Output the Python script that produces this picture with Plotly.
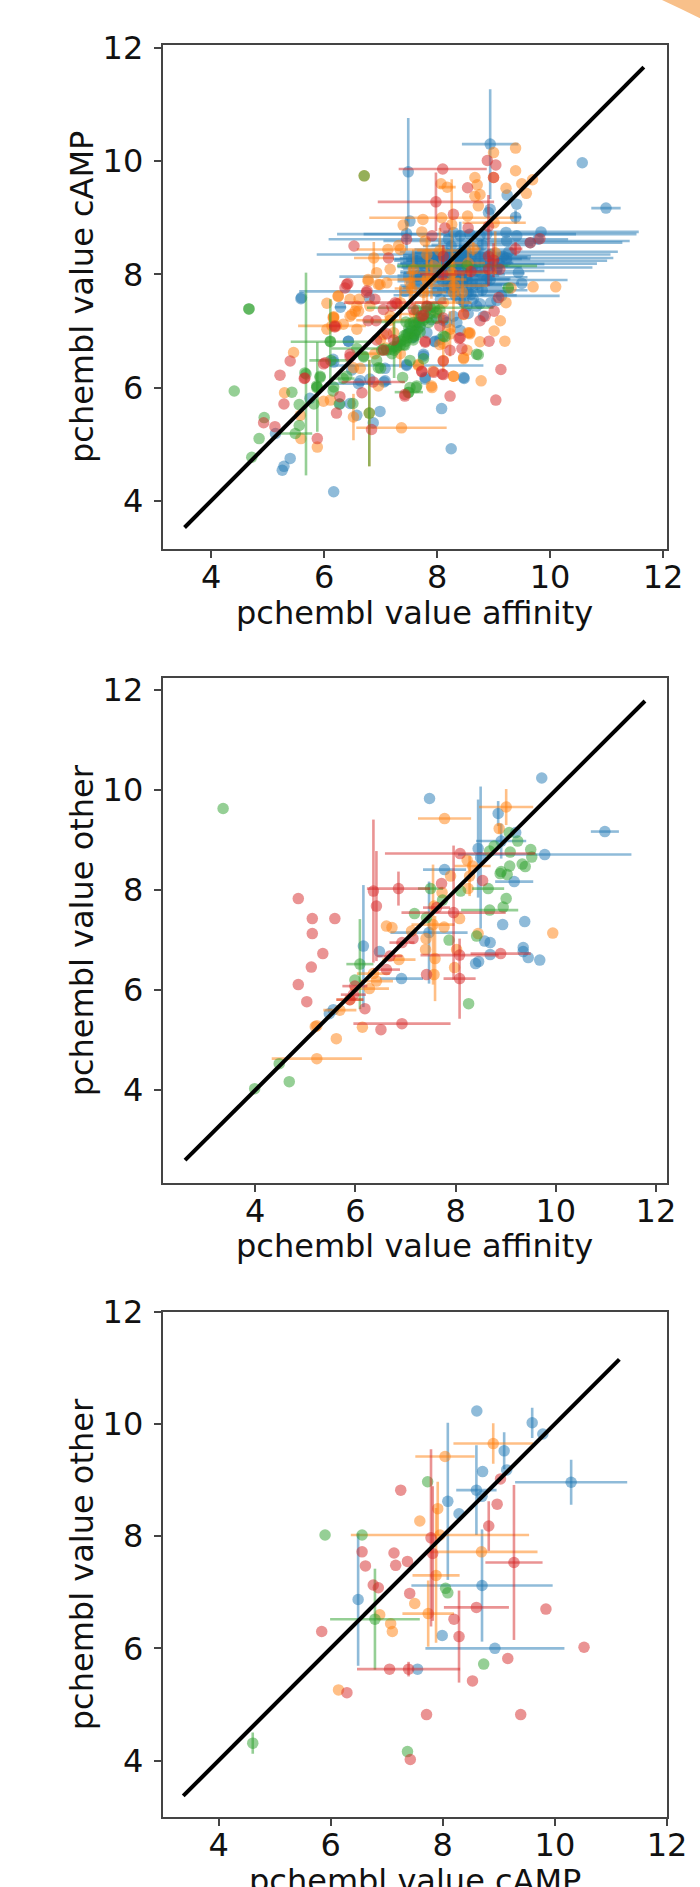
import plotly.graph_objects as go

# Panel 1: affinity vs cAMP. Rows: x, y, optional x error, optional y error.
A_BLUE = [
(8.94,10.3,.5,.97),(10.57,9.97),(10.99,9.17,.26,0),(7.49,9.81,0,.95),(9.24,9.4),(9.41,9.24),(9.39,9.01,.1,.12),(8.94,9.15),(8.91,9.09),
(7.52,8.94),(7.46,8.72,0,.3),(9.84,8.75,1.73,0),(8.88,8.71,2.65,0),(8.58,8.71,1.88,0),(8.2,8.62,2.12,0),(9.65,8.56,1.63,0),(9.23,8.59,2.18,0),
(8.47,8.35,2.6,0),(9.27,8.4,1.93,0),(9.23,8.29,1.89,0),(9.23,8.24,1.78,0),(9.09,8.19,1.74,0),(9.06,8.12,1.69,0),(7.64,7.96,1.37,0),(8.94,7.9,1.37,0),
(7.43,7.7,1.87,0),(9.14,7.62,1.03,0),(8.32,7.63,1.09,0),(9.5,7.84),(9.44,8.03),(5.59,7.57),(6.29,7.42,.1,0),(6.8,7.59),(9.22,8.74),(9.41,8.68),(9.79,8.62),
(7.82,8.27,.6,.1),(7.99,8.32,.5,.1),(8.17,8.24,.7,.2),(8.41,8.38,.8,.15),(8.58,8.15,.6,.1),(8.76,8.32,.9,.2),(9.0,8.27,.5,.1),(7.64,8.24,.4,.1),(7.88,8.15,.5,.1),
(8.11,8.03,.7,.15),(8.35,8.15,.9,.1),(8.53,7.91,.5,.2),(8.7,7.82,.6,.1),(8.88,7.91,.4,.1),(9.06,8.09),(9.17,8.32),(8.41,8.68,.3,.25),(8.29,8.74),(8.76,8.68),
(8.41,7.56,.3,.1),(8.53,7.44),(8.7,7.44,.3,0),(8.82,7.26),(8.29,7.26),(7.82,6.97),(8.06,7.56),(8.2,7.75,.3,0),(8.0,7.7),(8.6,7.65),(8.95,7.5),
(6.43,6.82),(7.76,6.56),(7.46,6.39,1.36,0),(8.48,6.16),(8.08,5.63),(8.25,4.92),(6.17,4.16),(6.99,5.58),(6.87,5.38),(6.61,6.07,.58,0),(6.81,6.15),(7.06,6.1),(7.79,6.15),
(6.58,5.51),(6.46,5.72),(6.28,5.71),(5.75,5.81),(5.4,4.75),(5.29,4.61),(5.26,4.54),(5.14,5.19),(7.96,6.81),(8.41,7.01),(7.08,6.34),(6.49,6.31),(6.17,6.45),
(7.58,6.9),(7.49,6.95),(8.11,7.19),(8.55,7.31),(8.76,7.48),(8.47,7.51),(9.06,7.54),(7.7,7.1),(7.62,7.0),(7.9,7.2),
(8.4,8.36,1.0,.1),(8.5,8.3,1.1,.1),(8.3,8.22,.9,.15),(8.6,8.18,1.3,.1),(8.2,8.1,.8,.15),(8.7,8.06,1.2,.1),(8.3,8.0,.9,.1),(8.5,7.95,1.1,.1),(8.1,7.88,.8,.1),(8.6,7.82,1.0,.2),
(8.3,7.76,.9,.1),(8.8,7.72,.8,.1),(8.5,8.44,.9,.1),(8.8,8.52,.9,.1),(8.25,8.5,.5,.1),(7.46,6.41),(7.76,6.59),(8.47,6.18),(7.79,6.18),(7.08,6.12),(6.64,6.12),(6.16,6.5),
(8.05,6.85),(8.17,7.15),(7.64,7.15),(7.52,7.0),(7.58,6.88),(7.96,6.82),(8.35,7.15),(8.64,7.56),(7.64,7.82),(6.43,6.82),(5.6,7.59),
(8.3,8.33,.9,.05),(8.45,8.27,1.2,.05),(8.35,8.2,1.0,.05),(8.4,8.13,1.1,.05),(8.25,8.05,.9,.05),(8.45,8.02,1.1,.05),(8.2,7.98,.9,.05),(8.3,7.92,1.0,.05),(8.45,7.85,1.0,.05),(8.25,7.8,.9,.05),
(8.55,7.68,.8,.05),(8.15,8.38,.6,.05),(8.0,8.28,.55,.05),(8.05,8.12,.55,.05),(8.0,7.95,.5,.05),(8.2,8.3),(8.4,8.2),(8.6,8.1),(8.8,8.0),(8.2,7.9),(8.4,7.85),(8.0,8.05),(7.8,8.1),(7.7,8.0),
(8.9,8.15),(8.95,8.35),(8.6,8.3),
]
A_ORANGE = [
(9.39,10.23),(9.0,10.15),(9.39,9.83),(9.0,9.71),(8.67,9.71),(9.69,9.67),(8.71,9.58),(9.5,9.6),(8.07,9.6),(8.18,9.54,.15,0),(9.22,9.52),(8.76,9.41),(8.67,9.38),(9.58,9.43),
(8.73,9.21),(8.54,9.03),(8.08,9.0,1.28,0),(7.75,8.97),(7.4,8.87),(9.01,8.91,.56,0),(8.26,8.88,0,.8),(7.73,8.75),(7.79,8.59),(7.32,8.51),(7.13,8.44),(6.88,8.29,.35,.28),
(7.35,8.44,.77,0),(8.64,8.45,.13,.12),(9.03,8.38,0,.38),(7.82,8.35,0,.3),(7.17,8.09),(6.93,8.03),(6.78,7.91),(6.96,7.82),(7.11,7.85),(9.7,7.78),(10.1,7.78),(9.31,7.76),
(9.22,7.5),(8.26,8.03,.8,.25),(7.58,8.09,0,.35),(7.52,7.85,0,.3),(8.29,7.68,0,.7),(8.45,7.68,0,.35),(6.25,7.61),(6.05,7.49),(6.46,7.56),(6.62,7.56),(6.81,7.44),(6.58,7.44),
(6.49,7.29),(6.17,7.23),(6.61,7.35),(6.05,7.03),(6.22,7.09),(6.58,7.03),(9.12,7.18),(9.01,7.0),(9.2,6.82),(8.47,7.29),(8.58,6.97),(8.23,7.03),(6.14,7.09,.6,0),
(5.46,6.62),(5.3,5.91),(5.58,5.51),(5.59,5.1),(5.88,4.95),(7.37,5.29,.8,0),(6.52,5.48,0,.41),(8.78,6.12),(8.29,6.2),(7.91,6.0),(6.96,6.03),(6.11,5.78),(5.99,5.76),
(8.11,6.78,0,.5),(8.11,6.48),(8.47,6.51),(8.53,6.66),(8.76,6.81),(8.58,6.95),(7.17,7.19,.6,0),(6.17,7.25),(7.67,6.39),(6.64,6.34),(8.23,6.95,0,.4),
(7.82,7.91,.7,.45),(7.94,8.15,.4,0),(8.11,7.5,.5,0),(7.35,7.5,0,.3),(7.76,7.68,.4,.3),(7.23,6.97,0,.3),(6.71,9.74),(6.8,5.55,0,.94),(7.6,7.3,.3,.2),(8.0,7.35),
(7.1,6.7),(6.9,6.6,.25,0),(7.35,6.6,0,.25),(7.0,6.85),
(7.9,7.92,.5,.35),(8.3,7.8,.6,.3),(8.55,8.2,.3,.25),(7.55,7.75,.3,.3),(8.05,8.42,.4,.4),(6.78,7.88),(6.99,7.82),(6.25,7.62),(6.55,7.35),(6.46,7.26),(6.34,7.12),(7.05,6.94),(7.17,7.26),
(8.55,6.97),(8.47,6.53),(8.29,6.2),(7.9,6.03),(6.52,6.35),(8.05,6.76),(7.67,6.41),(7.93,6.29),(6.16,7.24),
]
A_GREEN = [
(4.67,7.39),(4.67,7.39),(4.41,5.94),(4.94,5.47),(4.85,5.1),(4.72,4.77),(5.49,5.19,.3,0),(5.56,5.33),(5.56,5.7),(5.43,5.92),(5.68,6.24,0,1.79),(5.93,6.18),(5.82,5.71),
(5.88,6.01,0,.79),(6.11,6.81,.7,.75),(6.12,6.48,.38,0),(6.58,6.69,.45,0),(6.34,6.16,.2,0),(6.17,6.01),(6.7,6.54),(7.0,6.34),(7.39,6.18),(7.63,6.0),(7.49,5.91),(7.5,5.92,.25,0),
(7.24,6.66,0,.49),(7.76,6.51),(8.73,6.58),(8.14,6.9),(6.27,5.71),(6.51,5.72),(5.87,6.0),(7.11,6.66),(7.23,6.72),(7.35,6.75),(7.49,6.95),(7.58,6.84),(7.43,6.75),(7.76,7.19),
(7.88,7.31),(7.64,7.37),(7.82,7.43),(7.99,7.22),(7.7,7.07),(7.52,7.13),(8.05,7.37),(7.52,6.48),(7.02,6.66),(6.93,6.48),(7.88,7.41,1.12,0),(7.45,7.16,.75,0),(8.53,8.15,1.24,0),
(9.26,7.76,.1,0),(6.71,9.74),(6.8,5.55,0,.94),(7.6,6.95),(7.55,6.88),(7.65,7.02),(7.7,7.22),(7.45,6.82),(7.3,6.8),(7.2,6.6),
(5.66,6.26),(5.93,6.2),(6.11,6.82),(6.7,6.56),(6.96,6.35),(7.29,6.73),(7.41,6.76),(7.05,6.68),(7.46,6.94),(7.58,7.15),(7.82,7.24),(7.99,7.32),(8.11,6.91),(8.7,6.59),(7.64,6.03),(7.52,6.0),
(6.16,5.94),(5.87,6.03),(6.4,6.2),
(7.6,7.1),(7.68,7.15),(7.72,7.28),(7.8,7.35),(7.55,7.0),(7.48,6.88),(7.4,6.85),(7.35,6.82),(7.28,6.7),(7.18,6.68),(7.62,6.92),(7.7,6.98),(7.85,7.15),(7.95,7.42),(7.5,7.05),(7.42,6.92),
]
A_RED = [
(8.1,9.86,.78,0),(8.89,10.01),(9.04,9.93),(9.0,9.71),(8.54,9.53),(7.98,9.28,1.03,.52),(8.29,9.06),(8.14,8.82),(8.55,8.82),(8.91,8.85,0,.55),(7.91,8.68),(7.46,8.62),(6.53,8.5),
(7.14,8.29),(9.39,8.45,.12,.12),(9.82,8.63),(9.65,8.56),(8.11,8.32,0,.2),(8.91,8.32),(9.11,8.09),(8.91,8.09,0,.3),(6.42,7.84),(6.37,7.76),(6.76,7.71),(6.9,7.56),(7.26,7.5,.91,0),
(9.09,7.59),(9.01,7.35),(8.85,7.26),(8.76,7.18),(6.78,7.18),(6.92,7.18),(6.19,7.09,.1,0),(7.76,7.28),(8.11,7.23),(7.2,7.44),(7.82,7.44),(7.58,7.38),(8.47,7.3),
(5.4,6.47),(5.22,6.22),(5.65,6.16),(5.29,5.71),(4.93,5.38),(5.13,5.31),(5.88,5.1),(6.84,5.26),(6.22,5.55),(6.28,5.84),(6.67,5.91),(7.43,5.85),(8.23,5.85),(9.04,5.78),(9.13,6.32),
(8.92,6.82),(8.09,6.24),(7.94,6.27),(7.73,6.28),(7.79,6.8),(8.23,6.66),(8.44,6.69),(8.39,6.87),(5.99,6.42),(6.19,7.07),(6.46,6.54),(6.87,6.1,.56,0),(6.93,6.84),(7.05,6.66),
(7.11,6.95),(7.23,6.84),(7.29,7.48),
(6.4,7.82),(7.73,7.26),(7.79,6.82),(8.41,6.88),(8.05,7.09),(8.11,6.47),(7.73,6.29),(8.11,6.23),(7.43,5.88),(6.02,6.44),(5.66,6.17),(6.46,6.59),(7.05,7.38),(6.75,7.68),
(8.1,8.0,.4,.1),(8.6,8.05,.3,.1),(9.0,8.25,.1,.3),
]

# Panel 2: affinity vs other.
B_BLUE = [
(9.72,10.24),(7.48,9.83),(10.98,9.17,.28,0),(8.85,9.53,0,.25),(9.2,9.15),(8.91,8.98,.5,.35),(8.45,8.83,0,.98),(8.5,8.65,0,1.42),(9.78,8.71,1.73,0),(7.78,8.41,.43,0),(9.17,8.17,.38,0),
(6.16,6.88,0,1.22),(6.48,6.77),(7.47,7.15,.77,1.02),(6.92,6.23,.43,0),(8.94,7.31),(9.38,7.37),(8.58,6.98),(8.69,6.95),(9.35,6.85),(9.35,6.77),(9.45,6.65),(9.68,6.6),(8.69,6.71),(8.46,6.57),
(8.4,6.53),(5.56,5.61),(5.48,5.53),
]
B_ORANGE = [
(9.01,9.66,.54,.36),(7.78,9.43,.53,0),(8.87,9.23,0,.1),(8.23,8.6),(8.34,8.48,.36,0),(7.9,8.28),(8.28,8.28,0,.4),(8.25,8.03),(7.73,7.95),(8.08,7.43),(7.57,7.68),(6.62,7.28),(6.73,7.25),
(7.55,7.31,.43,1.2),(7.77,7.26),(7.12,7.18),(9.94,7.14),(8.45,7.13),(7.41,7.03),(7.4,6.81),(8.02,6.81),(7.59,6.63,0,.85),(6.87,6.61,.33,0),(7.98,6.45),(7.57,6.31),(6.36,6.33,.33,0),
(6.42,6.18,.33,0),(6.28,6.03,.39,0),(5.89,5.81,.27,0),(5.69,5.6,.33,0),(5.23,5.29),(5.2,5.27),(6.14,5.26),(5.62,5.03),(5.23,4.63,.9,0),
]
B_GREEN = [
(3.36,9.63),(9.07,9.15),(9.24,8.98),(8.77,8.88),(9.09,8.76),(8.68,8.78),(9.5,8.81),(9.52,8.66),(9.08,8.48),(9.33,8.52),(9.39,8.47),(8.91,8.37),(8.89,8.33),(9.03,8.31),(8.65,8.03,.32,0),
(8.1,7.98),(7.5,8.03,.25,0),(9.01,7.83),(8.95,7.66),(8.68,7.6,.57,0),(7.74,7.8),(7.18,7.53),(7.42,7.45),(7.87,7.0),(8.42,7.08),(6.09,6.52,.27,.9),(5.99,6.2),(8.26,5.73),(4.48,4.53),(3.99,4.03),(4.68,4.17),
]
B_RED = [
(4.86,7.83),(5.14,7.43),(5.59,7.43),(5.14,7.13),(5.35,6.73),(5.12,6.46),(4.86,6.11),(5.03,5.77),(6.36,7.98,0,1.43),(6.42,7.68,0,1.1),(6.86,8.03,.63,.34),(8.09,8.73,1.5,0),(7.96,7.55,1.04,1.34),
(7.72,8.13),(8.54,8.19),(7.15,7.03),(6.93,6.95,.25,0),(6.62,6.41,.27,0),(7.42,6.31),(8.08,6.7,.78,0),(8.9,6.73,.6,0),(8.08,6.23,.32,.8),(6.19,5.63),(5.89,5.81,.27,0),(5.96,5.91,.25,0),
(5.99,6.08,.25,0),(6.51,5.21),(6.93,5.33,.97,0),(7.62,7.65,.27,0),(6.69,6.68,.25,0),
]

# Panel 3: cAMP vs other.
C_BLUE = [
(8.607,10.23),(9.595,10.02,0,.27),(9.785,9.82),(9.095,9.52,0,.33),(9.14,9.18),(8.71,9.15),(10.29,8.96,1.0,.4),(8.6,8.82,.36,.8),(8.7,8.71),(8.09,8.62,0,1.4),(8.29,8.4),(8.7,7.12,1.26,1.0),
(6.49,6.87,0,1.18),(7.99,6.23),(8.93,6.0,1.24,0),(7.55,5.63),
]
C_ORANGE = [
(8.9,9.65,.71,.36),(8.04,9.42,.53,0),(7.91,8.49,0,.48),(7.59,8.27),(7.95,8.02,1.59,0),(8.69,7.72,1.0,0),(7.88,7.3,.42,1.2),(7.5,6.8),(7.74,6.62,.46,.59),(6.875,6.6),(7.07,6.44),(7.1,6.3),(6.14,5.26),
]
C_GREEN = [
(7.73,8.97),(5.9,8.02),(6.56,8.02),(8.05,7.07),(8.09,6.99),(6.79,6.52,.8,.9),(8.73,5.72),(4.61,4.31,0,.19),(7.37,4.16),
]
C_RED = [
(7.25,8.82),(9.03,9.02),(8.97,8.57),(8.82,8.18,0,.44),(7.79,7.97,0,1.58),(7.82,7.69,0,1.2),(6.56,7.72),(7.13,7.7),(7.37,7.55),(7.16,7.48),(6.62,7.47),(9.27,7.53,.51,1.38),(6.76,7.13),(6.85,7.08),
(7.41,6.98),(8.6,6.73,.58,0),(9.84,6.7),(8.2,6.52),(5.84,6.3),(8.29,6.21,0,.82),(10.52,6.02),(9.16,5.82),(7.05,5.63),(7.39,5.63,.92,.13),(8.53,5.42),(6.29,5.21),(7.71,4.82),(9.39,4.82),(7.42,4.02),
]

TICKS = [4, 6, 8, 10, 12]
X_TITLES = ["pchembl value affinity", "pchembl value affinity", "pchembl value cAMP"]
Y_TITLES = ["pchembl value cAMP", "pchembl value other", "pchembl value other"]
X_RANGES = [(3.14, 12.07), (2.15, 12.22), (3.0, 12.0)]
Y_RANGES = [(3.15, 12.05), (2.15, 12.24), (3.0, 12.0)]
LINE_ENDS = [(3.53, 11.66), (2.6, 11.78), (3.37, 11.15)]
PANELS = [
    (A_BLUE, A_ORANGE, A_GREEN, A_RED),
    (B_BLUE, B_ORANGE, B_GREEN, B_RED),
    (C_BLUE, C_ORANGE, C_GREEN, C_RED),
]
COLORS = [(31, 119, 180), (255, 127, 14), (44, 160, 44), (214, 39, 40)]

W, H = 700, 1887
LEFT, RIGHT = 162.5, 667
BOXES = [(45, 549), (678, 1182.7), (1311.7, 1816.7)]
X_TITLE_Y = [613, 1246, 1881]
Y_TITLE_X = 82

fig = go.Figure()
layout = {}
notes = []
for i, groups in enumerate(PANELS):
    sfx = "" if i == 0 else str(i + 1)
    xa, ya = "x" + sfx, "y" + sfx
    for rows, c in zip(groups, COLORS):
        xs = [r[0] for r in rows]
        ys = [r[1] for r in rows]
        ex = [r[2] if len(r) > 2 else 0 for r in rows]
        ey = [r[3] if len(r) > 2 else 0 for r in rows]
        col = f"rgb({c[0]},{c[1]},{c[2]})"
        ecol = f"rgba({c[0]},{c[1]},{c[2]},0.5)"
        fig.add_trace(go.Scatter(
            x=xs, y=ys, mode="markers", xaxis=xa, yaxis=ya, showlegend=False,
            marker=dict(size=11.5, color=col, opacity=0.5, line=dict(width=0)),
            error_x=dict(type="data", array=ex, visible=True, thickness=2.6, width=0, color=ecol),
            error_y=dict(type="data", array=ey, visible=True, thickness=2.6, width=0, color=ecol),
        ))
    a, b = LINE_ENDS[i]
    fig.add_trace(go.Scatter(x=[a, b], y=[a, b], mode="lines", xaxis=xa, yaxis=ya, showlegend=False,
                             line=dict(color="black", width=4)))
    top, bottom = BOXES[i]
    common = dict(tickmode="array", tickvals=TICKS, ticktext=[str(t) for t in TICKS], ticks="outside",
                  ticklen=7, tickwidth=1.6, tickcolor="#444", showline=True, linewidth=1.6, linecolor="#444",
                  mirror=True, showgrid=False, zeroline=False, automargin=False,
                  tickfont=dict(size=32, color="#111"))
    layout["xaxis" + sfx] = dict(domain=[LEFT / W, RIGHT / W], range=X_RANGES[i], anchor=ya,
                                 ticklabelstandoff=-8, **common)
    layout["yaxis" + sfx] = dict(domain=[1 - bottom / H, 1 - top / H], range=Y_RANGES[i], anchor=xa,
                                 ticklabelstandoff=4, **common)
    notes.append(dict(text=X_TITLES[i], xref="paper", yref="paper", showarrow=False,
                      x=(LEFT + RIGHT) / 2 / W, y=1 - X_TITLE_Y[i] / H, xanchor="center", yanchor="middle",
                      font=dict(size=32, color="#111")))
    notes.append(dict(text=Y_TITLES[i], xref="paper", yref="paper", showarrow=False, textangle=-90,
                      x=Y_TITLE_X / W, y=1 - (top + bottom) / 2 / H, xanchor="center", yanchor="middle",
                      font=dict(size=32, color="#111")))

fig.update_layout(
    width=W, height=H, autosize=False, margin=dict(l=0, r=0, t=0, b=0),
    paper_bgcolor="white", plot_bgcolor="white", font=dict(family="DejaVu Sans"),
    annotations=notes,
    shapes=[dict(type="path", xref="paper", yref="paper", layer="below",
                 path="M 0.9457 1 Q 0.972 0.9955 1 0.9903 L 1 1 Z",
                 fillcolor="#F8C08A", line=dict(width=0))],
    **layout,
)
fig.write_html("out.html", config={"displayModeBar": False},
               post_script="document.body.style.margin='0';")
